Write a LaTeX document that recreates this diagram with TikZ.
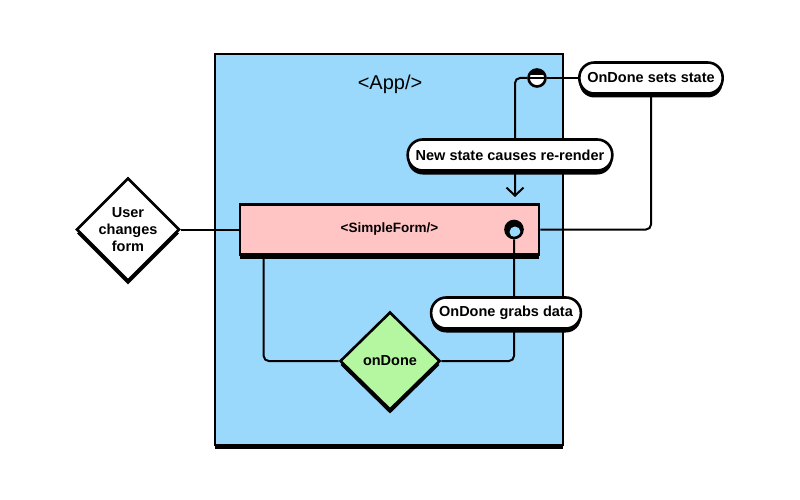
\documentclass[tikz,border=0pt]{standalone}
\usepackage{fontspec}
\setmainfont{Liberation Sans}
\usetikzlibrary{shapes.geometric,shadows,arrows.meta}

\begin{document}
\begin{tikzpicture}[x=1pt, y=-1pt, >={Straight Barb[length=8pt,width=17pt]},
                    font=\fontsize{14.5}{17}\selectfont\bfseries]
\def \sp {2.6pt}
\def \lw {2pt}
\definecolor{appblue}{HTML}{9BD9FC}
\definecolor{formpink}{HTML}{FFC4C4}
\definecolor{donegreen}{HTML}{B5F7A0}
  \tikzstyle{shade} = [drop shadow={shadow xshift=0pt, shadow yshift=-4pt, opacity=1, fill=black}]
  \tikzstyle{frame} = [draw, fill=appblue, rectangle, line width=\sp, shade,
                       minimum width=348pt, minimum height=391pt, inner sep=0]
  \tikzstyle{block} = [draw, fill=formpink, rectangle, line width=\sp, shade,
                       minimum width=299pt, minimum height=50pt, inner sep=0]
  \tikzstyle{decision} = [draw, fill=white, diamond, aspect=1, line width=\sp, shade,
                          minimum width=100pt, minimum height=100pt, inner sep=0, align=center]
  \tikzstyle{pill} = [draw, fill=white, rectangle, rounded corners=15pt, line width=\sp, shade,
                      minimum height=31pt, inner xsep=8pt]
  \tikzstyle{port} = [draw, circle, line width=\sp, minimum size=17pt, inner sep=0]
  \tikzstyle{lines} = [black, line width=\lw, rounded corners=5pt]

\useasboundingbox (0,0) rectangle (800,500);

%%%%%%%%%%%%%%%%%%%%%%%%%%%%%%%%%%%%%%%%%%%%%%%%%%%%%%%%%%%%%%%%%%%%%%%%%%%%%%%

\coordinate (app_pose) at (389, 249.5);
\coordinate (form_pose) at (389.5, 229.5);
\coordinate (user_pose) at (128, 229.5);
\coordinate (done_pose) at (390, 361);
\coordinate (sets_pose) at (651, 78);
\coordinate (render_pose) at (510, 155);
\coordinate (grabs_pose) at (506, 313);
\coordinate (rerender) at (515, 197);

%%%%%%%%%%%%%%%%%%%%%%%%%%%%%%%%%%%%%%%%%%%%%%%%%%%%%%%%%%%%%%%%%%%%%%%%%%%%%%%

\node[frame] (app) at (app_pose) {};
\node[font=\fontsize{20}{24}\selectfont] (apptitle) at (390, 84) {<App/>};
\node[block, font=\fontsize{13.5}{16}\selectfont\bfseries] (form) at (form_pose) {<SimpleForm/>};
\node[decision] (user) at (user_pose) {User\\changes\\form};
\node[decision, fill=donegreen, minimum height=98pt] (done) at (done_pose) {onDone};
\node[pill] (sets) at (sets_pose) {OnDone sets state};
\node[port, fill=white, path picture={
      \fill[black] ([yshift=2.5pt]path picture bounding box.west) rectangle (path picture bounding box.north east);
      \draw[black, line width=1.6pt] (path picture bounding box.west) -- (path picture bounding box.east);}]
      (topcirc) at (537, 78) {};
\node[port, fill=black, path picture={
      \fill[appblue] ([xshift=1pt,yshift=-2.5pt]path picture bounding box.center) circle[radius=5.5pt];}]
      (formcirc) at (514, 229.5) {};

%%%%%%%%%%%%%%%%%%%%%%%%%%%%%%%%%%%%%%%%%%%%%%%%%%%%%%%%%%%%%%%%%%%%%%%%%%%%%%%

\draw[lines,->] (topcirc.west) -| (rerender);
\draw[lines] (sets.west) -- (topcirc.east);
\draw[lines] (sets.south) |- (form.east);
\draw[lines] (user.east) -- (form.west);
\draw[lines] ([xshift=25pt]form.south west) |- (done.west);
\draw[lines] (done.east) -| (formcirc.south);

\node[pill] (render) at (render_pose) {New state causes re-render};
\node[pill] (grabs) at (grabs_pose) {OnDone grabs data};

\end{tikzpicture}
\end{document}
